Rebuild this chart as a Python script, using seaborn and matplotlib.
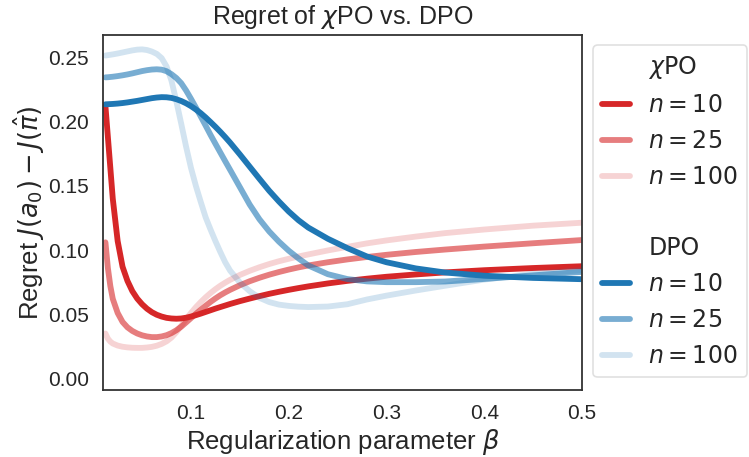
import numpy as np
import pandas as pd
import matplotlib
matplotlib.use("Agg")
import matplotlib.pyplot as plt
import seaborn as sns
from matplotlib.lines import Line2D

# values
beta = [0.0125, 0.015, 0.0175, 0.02, 0.025, 0.03, 0.035, 0.04, 0.045, 0.05,
        0.055, 0.06, 0.065, 0.07, 0.075, 0.08, 0.085, 0.09, 0.095, 0.10,
        0.105, 0.11, 0.115, 0.12, 0.125, 0.13, 0.135, 0.14, 0.15, 0.16,
        0.17, 0.18, 0.19, 0.20, 0.21, 0.22, 0.24, 0.26, 0.28, 0.30,
        0.33, 0.36, 0.40, 0.45, 0.50]

xpo_n10 = [0.2120, 0.1880, 0.1640, 0.1400, 0.1070, 0.0870, 0.0760, 0.0680, 0.0622, 0.0578,
           0.0543, 0.0516, 0.0496, 0.0482, 0.0472, 0.0467, 0.0465, 0.0467, 0.0473, 0.0482,
           0.0493, 0.0505, 0.0518, 0.0531, 0.0544, 0.0556, 0.0568, 0.0580, 0.0602, 0.0622,
           0.0641, 0.0659, 0.0675, 0.0690, 0.0704, 0.0717, 0.0740, 0.0760, 0.0777, 0.0792,
           0.0810, 0.0826, 0.0843, 0.0860, 0.0874]
xpo_n25 = [0.1060, 0.0860, 0.0720, 0.0620, 0.0510, 0.0440, 0.0398, 0.0370, 0.0350, 0.0336,
           0.0327, 0.0322, 0.0322, 0.0327, 0.0337, 0.0353, 0.0375, 0.0403, 0.0436, 0.0470,
           0.0503, 0.0535, 0.0566, 0.0596, 0.0623, 0.0648, 0.0670, 0.0690, 0.0726, 0.0757,
           0.0784, 0.0808, 0.0829, 0.0848, 0.0865, 0.0880, 0.0905, 0.0927, 0.0946, 0.0963,
           0.0985, 0.1004, 0.1027, 0.1053, 0.1078]
xpo_n100 = [0.0350, 0.0310, 0.0287, 0.0272, 0.0256, 0.0247, 0.0242, 0.0239, 0.0238, 0.0238,
            0.0241, 0.0246, 0.0255, 0.0269, 0.0289, 0.0318, 0.0360, 0.0410, 0.0462, 0.0510,
            0.0555, 0.0595, 0.0632, 0.0665, 0.0695, 0.0722, 0.0746, 0.0768, 0.0806, 0.0838,
            0.0866, 0.0891, 0.0913, 0.0932, 0.0950, 0.0966, 0.0997, 0.1025, 0.1052, 0.1075,
            0.1105, 0.1132, 0.1160, 0.1190, 0.1213]

dpo_n10 = [0.2135, 0.2136, 0.2137, 0.2138, 0.2141, 0.2145, 0.2150, 0.2156, 0.2162, 0.2169,
           0.2176, 0.2183, 0.2188, 0.2191, 0.2190, 0.2185, 0.2175, 0.2161, 0.2143, 0.2121,
           0.2095, 0.2066, 0.2033, 0.1997, 0.1960, 0.1921, 0.1880, 0.1837, 0.1745, 0.1650,
           0.1555, 0.1462, 0.1378, 0.1300, 0.1232, 0.1175, 0.1088, 0.1015, 0.0950, 0.0905,
           0.0857, 0.0825, 0.0800, 0.0783, 0.0773]
dpo_n25 = [0.2345, 0.2346, 0.2348, 0.2350, 0.2355, 0.2361, 0.2368, 0.2376, 0.2385, 0.2394,
           0.2401, 0.2406, 0.2408, 0.2405, 0.2393, 0.2370, 0.2340, 0.2300, 0.2243, 0.2178,
           0.2110, 0.2040, 0.1969, 0.1897, 0.1828, 0.1760, 0.1692, 0.1625, 0.1490, 0.1355,
           0.1240, 0.1145, 0.1065, 0.0995, 0.0935, 0.0880, 0.0812, 0.0774, 0.0756, 0.0750,
           0.0750, 0.0755, 0.0775, 0.0803, 0.0830]
dpo_n100 = [0.2515, 0.2518, 0.2521, 0.2524, 0.2531, 0.2539, 0.2547, 0.2555, 0.2561, 0.2563,
            0.2558, 0.2546, 0.2528, 0.2495, 0.2430, 0.2320, 0.2160, 0.1985, 0.1805, 0.1640,
            0.1500, 0.1375, 0.1255, 0.1160, 0.1070, 0.0985, 0.0905, 0.0840, 0.0748, 0.0680,
            0.0628, 0.0595, 0.0575, 0.0565, 0.0559, 0.0556, 0.0560, 0.0578, 0.0615, 0.0645,
            0.0685, 0.0722, 0.0770, 0.0815, 0.0843]

sample_sizes = [10, 25, 100]
alphas = [1.0, 0.6, 0.2]
red = "#d62728"
blue = "#1f77b4"

sns.set_style("white")
plt.rcParams['font.family'] = ['Liberation Sans', 'DejaVu Sans']
plt.rcParams['mathtext.fontset'] = 'dejavusans'

fig = plt.figure(figsize=(7.49, 4.57), dpi=100)
ax = fig.add_axes([103/749, 1-390/457, (582-103)/749, (390-35)/457])

handles = [Line2D([], [], color='none')]
labels = [r"$\chi$PO"]
for vals, n, a in zip([xpo_n10, xpo_n25, xpo_n100], sample_sizes, alphas):
    sns.lineplot(x=beta, y=vals, color=red, alpha=a, lw=4.2, ax=ax,
                 solid_capstyle='round')
    handles.append(Line2D([], [], color=red, alpha=a, lw=4.2, solid_capstyle='round'))
    labels.append(r"$n = %d$" % n)
handles += [Line2D([], [], color='none'), Line2D([], [], color='none')]
labels += [" ", "DPO"]
for vals, n, a in zip([dpo_n10, dpo_n25, dpo_n100], sample_sizes, alphas):
    sns.lineplot(x=beta, y=vals, color=blue, alpha=a, lw=4.2, ax=ax,
                 solid_capstyle='round')
    handles.append(Line2D([], [], color=blue, alpha=a, lw=4.2, solid_capstyle='round'))
    labels.append(r"$n = %d$" % n)

ax.set_xlim(0.01, 0.5)
ax.set_ylim(-0.009, 0.2675)
ax.set_xticks([0.1, 0.2, 0.3, 0.4, 0.5])
ax.set_xticklabels(["0.1", "0.2", "0.3", "0.4", "0.5"])
ax.set_yticks([0.0, 0.05, 0.10, 0.15, 0.20, 0.25])
ax.set_yticklabels(["0.00", "0.05", "0.10", "0.15", "0.20", "0.25"])
ax.tick_params(axis='both', length=0, pad=10, labelsize=15, colors='.15')
for s in ax.spines.values():
    s.set_color('.2')
    s.set_linewidth(1.3)

ax.set_xlabel(r"Regularization parameter $\beta$", fontsize=18.5, labelpad=3, color='.15')
ax.set_ylabel(r"Regret $J(a_0) - J(\hat{\pi})$", fontsize=18.5, labelpad=1, color='.15')
ax.set_title(r"Regret of $\chi$PO vs. DPO", fontsize=18, pad=8, color='.15')

leg = fig.legend(handles, labels, loc='upper left',
                 bbox_to_anchor=(593/749, 1-45/457), bbox_transform=fig.transFigure,
                 borderaxespad=0, frameon=True, handlelength=1.15,
                 prop={'family': 'DejaVu Sans', 'size': 17}, labelspacing=0.5)
leg.get_frame().set_edgecolor('0.85')
leg.get_frame().set_linewidth(1.2)
for t in leg.get_texts():
    t.set_color('.15')

fig.savefig("out.png", dpi=100)
